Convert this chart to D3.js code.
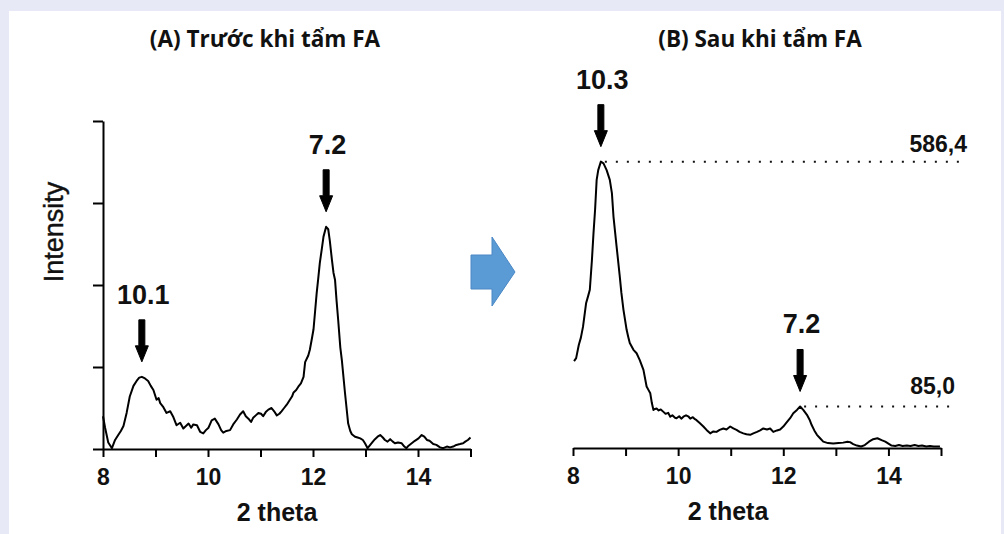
<!DOCTYPE html>
<html>
<head>
<meta charset="utf-8">
<script src="https://cdn.jsdelivr.net/npm/d3@7"></script>
<style>
  html, body { margin: 0; padding: 0; background: #e7eaf6; }
  svg { display: block; }
</style>
</head>
<body>
<svg id="chart" width="1004" height="534"></svg>
<script>
// XRD scans, 2 theta vs intensity
const thetaBefore = [8.00, 8.04, 8.10, 8.17, 8.23, 8.29, 8.34, 8.39, 8.45, 8.51, 8.58, 8.64, 8.69, 8.74, 8.80, 8.86, 8.91, 8.96, 9.02, 9.06, 9.09, 9.15, 9.21, 9.28, 9.34, 9.40, 9.47, 9.53, 9.58, 9.63, 9.68, 9.72, 9.79, 9.85, 9.91, 9.96, 10.01, 10.07, 10.13, 10.20, 10.25, 10.29, 10.35, 10.42, 10.48, 10.55, 10.61, 10.67, 10.72, 10.77, 10.82, 10.86, 10.91, 10.96, 11.01, 11.05, 11.10, 11.15, 11.21, 11.26, 11.31, 11.36, 11.40, 11.45, 11.50, 11.56, 11.60, 11.63, 11.68, 11.72, 11.77, 11.82, 11.85, 11.91, 11.94, 11.98, 12.01, 12.04, 12.07, 12.10, 12.13, 12.17, 12.20, 12.25, 12.29, 12.32, 12.36, 12.39, 12.42, 12.45, 12.48, 12.52, 12.55, 12.61, 12.67, 12.71, 12.74, 12.80, 12.85, 12.90, 12.95, 12.99, 13.04, 13.09, 13.14, 13.18, 13.23, 13.28, 13.33, 13.37, 13.42, 13.47, 13.52, 13.56, 13.62, 13.69, 13.74, 13.78, 13.82, 13.88, 13.94, 14.01, 14.07, 14.12, 14.17, 14.22, 14.29, 14.35, 14.42, 14.48, 14.55, 14.61, 14.67, 14.73, 14.80, 14.86, 14.90, 14.95, 15.00];
const intensityBefore = [40, 26, 8, 1, 11, 17, 22, 28, 44, 64, 77, 83, 87, 88, 86, 83, 77, 72, 60, 62, 56, 51, 44, 46, 39, 29, 32, 25, 28, 31, 26, 30, 29, 21, 19, 23, 26, 35, 37, 30, 23, 20, 22, 23, 30, 36, 42, 46, 40, 37, 33, 38, 41, 44, 43, 40, 45, 48, 50, 46, 41, 43, 46, 50, 54, 60, 64, 69, 72, 76, 80, 88, 106, 114, 121, 135, 146, 168, 190, 208, 227, 245, 259, 271, 268, 254, 231, 215, 206, 180, 157, 124, 108, 68, 31, 22, 18, 15, 14, 13, 11, 7, 1, 5, 9, 12, 15, 17, 14, 11, 9, 12, 9, 7, 8, 7, 3, 1, 4, 7, 10, 13, 17, 15, 11, 10, 6, 5, 2, 1, 3, 2, 3, 5, 6, 7, 9, 11, 14];

const thetaAfter = [8.02, 8.06, 8.11, 8.15, 8.19, 8.25, 8.29, 8.32, 8.36, 8.39, 8.42, 8.45, 8.48, 8.53, 8.58, 8.64, 8.70, 8.74, 8.77, 8.83, 8.89, 8.92, 8.96, 9.02, 9.05, 9.08, 9.15, 9.21, 9.27, 9.34, 9.40, 9.44, 9.47, 9.50, 9.53, 9.56, 9.59, 9.63, 9.67, 9.72, 9.76, 9.81, 9.85, 9.89, 9.94, 9.97, 10.02, 10.06, 10.10, 10.15, 10.20, 10.23, 10.28, 10.32, 10.35, 10.41, 10.48, 10.54, 10.61, 10.67, 10.73, 10.79, 10.86, 10.92, 10.99, 11.05, 11.11, 11.17, 11.24, 11.30, 11.37, 11.43, 11.50, 11.56, 11.62, 11.69, 11.75, 11.81, 11.88, 11.94, 12.00, 12.06, 12.13, 12.19, 12.26, 12.32, 12.38, 12.45, 12.50, 12.54, 12.59, 12.64, 12.70, 12.76, 12.85, 12.95, 13.05, 13.14, 13.22, 13.27, 13.33, 13.40, 13.48, 13.55, 13.63, 13.71, 13.79, 13.87, 13.94, 14.00, 14.06, 14.13, 14.20, 14.27, 14.35, 14.42, 14.50, 14.57, 14.64, 14.72, 14.79, 14.86, 14.93, 14.98];
const intensityAfter = [178, 184, 211, 226, 248, 297, 312, 324, 385, 440, 488, 549, 569, 586.4, 583, 569, 549, 522, 474, 412, 351, 318, 283, 242, 228, 215, 201, 194, 180, 160, 126, 118, 112, 92, 78, 80, 81, 77, 79, 74, 70, 72, 64, 67, 62, 61, 65, 60, 64, 67, 64, 60, 63, 59, 57, 51, 44, 37, 30, 34, 33, 37, 40, 38, 44, 40, 37, 33, 30, 28, 27, 30, 33, 36, 40, 38, 40, 33, 36, 38, 44, 52, 61, 71, 78, 85.0, 78, 68, 58, 47, 36, 27, 20, 13, 10, 9, 10, 11, 13, 12, 8, 5, 3, 6, 13, 18, 20, 16, 13, 9, 5, 4, 6, 4, 5, 4, 6, 4, 5, 3, 4, 3, 3, 3];

const thetaTicks = [8, 9, 10, 11, 12, 13, 14, 15];
const intensityTicks = [0, 100, 200, 300, 400];

const panelTitles = ["(A) Trước khi tẩm FA", "(B) Sau khi tẩm FA"];
const peaksBefore = [{ theta: 8.74, value: 88, label: "10.1" }, { theta: 12.25, value: 271, label: "7.2" }];
const peaksAfter = [{ theta: 8.53, value: 586.4, label: "10.3" }, { theta: 12.32, value: 85.0, label: "7.2" }];
const markedLevels = [586.4, 85.0];
const markedLabels = ["586,4", "85,0"];

const svg = d3.select("#chart");
const sans = "'Liberation Sans', Arial, sans-serif";

// white sheet behind both panels
svg.append("rect").attr("x", 9).attr("y", 11).attr("width", 992).attr("height", 523).attr("fill", "#ffffff");

// titles
svg.selectAll("text.title").data(panelTitles).join("text")
  .attr("class", "title")
  .attr("x", (d, i) => i === 0 ? 265 : 760)
  .attr("y", 47)
  .attr("text-anchor", "middle")
  .attr("font-family", "'Open Sans', sans-serif")
  .attr("font-weight", 700)
  .attr("font-size", 22.5)
  .attr("fill", "#111")
  .text(d => d);

// scales
const xL = d3.scaleLinear().domain([8, 15]).range([103, 470.5]);
const yL = d3.scaleLinear().domain([0, 400]).range([449, 121]);
const xR = d3.scaleLinear().domain([8, 15]).range([573, 941]);
const yR = d3.scaleLinear().domain([0, 600]).range([448, 155]);

function drawXAxis(x, yPos, cx, baseY) {
  const g = svg.append("g").attr("transform", `translate(0,${yPos})`)
    .call(d3.axisBottom(x).tickValues(thetaTicks).tickSize(8).tickSizeOuter(0)
      .tickFormat(d => d % 2 === 0 ? d : ""));
  g.select(".domain").attr("stroke", "#000").attr("stroke-width", 2);
  g.selectAll(".tick line").attr("stroke", "#000").attr("stroke-width", 2);
  g.selectAll(".tick text")
    .attr("y", 36).attr("dy", 0)
    .attr("font-family", sans).attr("font-weight", 700).attr("font-size", 23).attr("fill", "#111");
  svg.append("text").attr("x", cx).attr("y", baseY).attr("text-anchor", "middle")
    .attr("font-family", sans).attr("font-weight", 700).attr("font-size", 25).attr("fill", "#111")
    .text("2 theta");
}

drawXAxis(xL, 449, 277, 521);
drawXAxis(xR, 448, 728, 520);

// left intensity axis without labels
const ya = svg.append("g").attr("transform", `translate(${xL(8)},0)`)
  .call(d3.axisLeft(yL).tickValues(intensityTicks).tickSize(10).tickSizeOuter(0).tickFormat(""));
ya.select(".domain").attr("stroke", "#000").attr("stroke-width", 2);
ya.selectAll(".tick line").attr("stroke", "#000").attr("stroke-width", 2);

svg.append("text")
  .attr("transform", "translate(63,232) rotate(-90)")
  .attr("text-anchor", "middle")
  .attr("font-family", sans).attr("font-size", 27).attr("fill", "#111")
  .attr("stroke", "#111").attr("stroke-width", 0.4)
  .text("Intensity");

// diffraction traces
function drawTrace(xs, ys, x, y) {
  const pts = xs.map((t, i) => [t, ys[i]]);
  svg.append("path").datum(pts)
    .attr("fill", "none").attr("stroke", "#000").attr("stroke-width", 2)
    .attr("stroke-linejoin", "round")
    .attr("d", d3.line().x(d => x(d[0])).y(d => y(d[1])));
}
drawTrace(thetaBefore, intensityBefore, xL, yL);
drawTrace(thetaAfter, intensityAfter, xR, yR);

// dotted reference levels in panel B
markedLevels.forEach((v, i) => {
  const peak = peaksAfter[i];
  const xEnd = i === 0 ? 967 : 955;
  svg.append("line")
    .attr("x1", xR(peak.theta) + 4).attr("x2", xEnd)
    .attr("y1", yR(v)).attr("y2", yR(v))
    .attr("stroke", "#111").attr("stroke-width", 2)
    .attr("stroke-dasharray", "2,9");
  svg.append("text")
    .attr("x", xEnd).attr("y", yR(v) - (i === 0 ? 10 : 12))
    .attr("text-anchor", "end")
    .attr("font-family", sans).attr("font-weight", 700).attr("font-size", 23).attr("fill", "#111")
    .text(markedLabels[i]);
});

// peak arrows with d-spacing labels
function drawPeak(p, x, y) {
  const cx = x(p.theta);
  const tip = y(p.value) - 15;
  const top = tip - 42;
  const sw = 3, hw = 6.5, hl = 16;
  svg.append("path")
    .attr("d", `M${cx - sw},${top} L${cx + sw},${top} L${cx + sw},${tip - hl} L${cx + hw},${tip - hl} L${cx},${tip} L${cx - hw},${tip - hl} L${cx - sw},${tip - hl} Z`)
    .attr("fill", "#000").attr("stroke", "#000").attr("stroke-width", 1).attr("stroke-linejoin", "round");
  svg.append("text")
    .attr("x", cx + 1.5).attr("y", top - 16)
    .attr("text-anchor", "middle")
    .attr("font-family", sans).attr("font-weight", 700).attr("font-size", 27).attr("fill", "#111")
    .text(p.label);
}
peaksBefore.forEach(p => drawPeak(p, xL, yL));
peaksAfter.forEach(p => drawPeak(p, xR, yR));

// blue block arrow between the panels
svg.append("path")
  .attr("d", "M471,255 L492,255 L492,237 L515,272 L492,306 L492,289 L471,289 Z")
  .attr("fill", "#5b9bd5").attr("stroke", "#4a87c4").attr("stroke-width", 1);
</script>
</body>
</html>
